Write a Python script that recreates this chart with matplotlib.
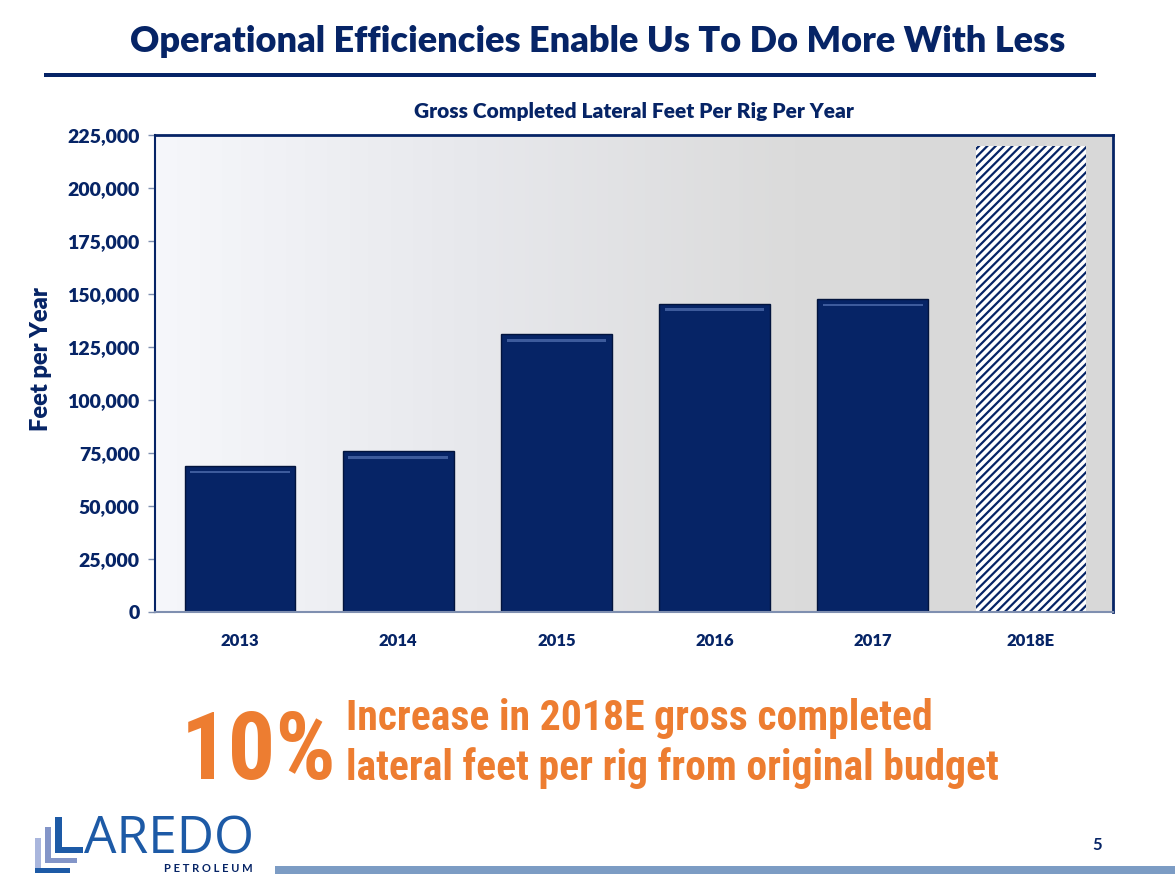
import numpy as np
import matplotlib
matplotlib.use("Agg")
import matplotlib.pyplot as plt
from matplotlib.patches import Rectangle
from matplotlib.ticker import FuncFormatter

# data
years = ["2013", "2014", "2015", "2016", "2017", "2018E"]
feet_per_rig = [69000, 76000, 131000, 145500, 147800, 220000]
estimate_flag = [False, False, False, False, False, True]

NAVY = "#062466"
ORANGE = "#ED7D31"
LOGO_BLUE = "#1D5AA6"

W, H = 1175, 889
plt.rcParams["font.family"] = ["Lato", "DejaVu Sans"]
plt.rcParams["hatch.linewidth"] = 1.6
plt.rcParams["hatch.color"] = NAVY

fig = plt.figure(figsize=(W / 100, H / 100), dpi=100)


def px(x, y):
    # pixel (from top-left) -> figure fraction
    return x / W, 1 - y / H


def rect_px(x0, y0, x1, y1, color):
    fig.patches.append(Rectangle(px(x0, y1), (x1 - x0) / W, (y1 - y0) / H,
                                 transform=fig.transFigure, color=color, lw=0))


# slide title + rule
fig.text(*px(598, 42), "Operational Efficiencies Enable Us To Do More With Less",
         ha="center", va="center", fontsize=26, fontweight="heavy", color=NAVY)
rect_px(44, 73, 1096, 77, NAVY)

# chart
ax = fig.add_axes([155 / W, 1 - 612 / H, (1113 - 155) / W, (612 - 135) / H])
x = np.arange(len(years))
x_lo, x_hi = -0.537, 5.518

grad = np.linspace(0, 1, 256).reshape(1, -1)
cmap = matplotlib.colors.LinearSegmentedColormap.from_list(
    "bg", ["#F6F7FB", "#E7E8EC", "#DBDBDB", "#D8D8D8"])
ax.imshow(grad, cmap=cmap, aspect="auto", extent=(x_lo, x_hi, 0, 225000), zorder=0)

for xi, val, est in zip(x, feet_per_rig, estimate_flag):
    if est:
        ax.bar(xi, val, width=0.7, color="white", edgecolor=NAVY, hatch="////",
               lw=0, zorder=2)
    else:
        ax.bar(xi, val, width=0.7, color=NAVY, edgecolor="#02143d", lw=1, zorder=2)
        # bevel highlight near top of bar
        ax.bar(xi, 1300, bottom=val - 3600, width=0.63, color="#3D5B9C",
               lw=0, zorder=3)

ax.set_xlim(x_lo, x_hi)
ax.set_ylim(0, 225000)
ax.set_yticks(np.arange(0, 225001, 25000))
ax.yaxis.set_major_formatter(FuncFormatter(lambda v, p: f"{int(v):,}"))
ax.set_xticks(x)
ax.set_xticklabels(years)
ax.tick_params(axis="x", length=0, pad=15, labelsize=12, labelcolor=NAVY)
ax.tick_params(axis="y", length=5, width=1, color="#7F8FB0", pad=6,
               labelsize=14, labelcolor=NAVY)
for lab in ax.get_xticklabels() + ax.get_yticklabels():
    lab.set_fontweight("heavy")

ax.spines["top"].set_color(NAVY)
ax.spines["top"].set_linewidth(2)
ax.spines["right"].set_color(NAVY)
ax.spines["right"].set_linewidth(2)
ax.spines["left"].set_color(NAVY)
ax.spines["left"].set_linewidth(1.5)
ax.spines["bottom"].set_color("#7F8FB0")
ax.spines["bottom"].set_linewidth(1.5)

ax.set_ylabel("Feet per Year", fontsize=17, fontweight="heavy", color=NAVY)
ax.yaxis.set_label_coords(-0.108, 0.53)
ax.set_title("Gross Completed Lateral Feet Per Rig Per Year", fontsize=15,
             fontweight="heavy", color=NAVY, pad=12)

# callout
narrow = ["Liberation Sans Narrow", "Roboto Condensed", "Lato", "DejaVu Sans"]
fig.text(*px(181, 779), "10%", ha="left", va="baseline", fontsize=68,
         fontweight="bold", color=ORANGE, family=narrow)
fig.text(*px(346, 730), "Increase in 2018E gross completed", ha="left",
         va="baseline", fontsize=30, fontweight="bold", color=ORANGE, family=narrow)
fig.text(*px(346, 780), "lateral feet per rig from original budget", ha="left",
         va="baseline", fontsize=30, fontweight="bold", color=ORANGE, family=narrow)

# logo
rect_px(35, 838, 41, 873, "#A9B6DD")
rect_px(35, 868, 70, 873, LOGO_BLUE)
rect_px(45, 827, 51, 863, "#8395C8")
rect_px(45, 858, 77, 863, "#8395C8")
rect_px(55, 817, 62, 853, LOGO_BLUE)
rect_px(55, 847, 83, 853, LOGO_BLUE)
fig.text(*px(84, 853), "AREDO", ha="left", va="baseline", fontsize=37,
         color=LOGO_BLUE, family=["Open Sans", "DejaVu Sans"])
fig.text(*px(253, 872), "P E T R O L E U M", ha="right", va="baseline",
         fontsize=8, fontweight="bold", color=NAVY)

# footer
rect_px(275, 866, 1175, 874, "#7C9CC4")
fig.text(*px(1097, 845), "5", ha="center", va="center", fontsize=12,
         fontweight="bold", color=NAVY)

fig.savefig("out.png", dpi=100)
